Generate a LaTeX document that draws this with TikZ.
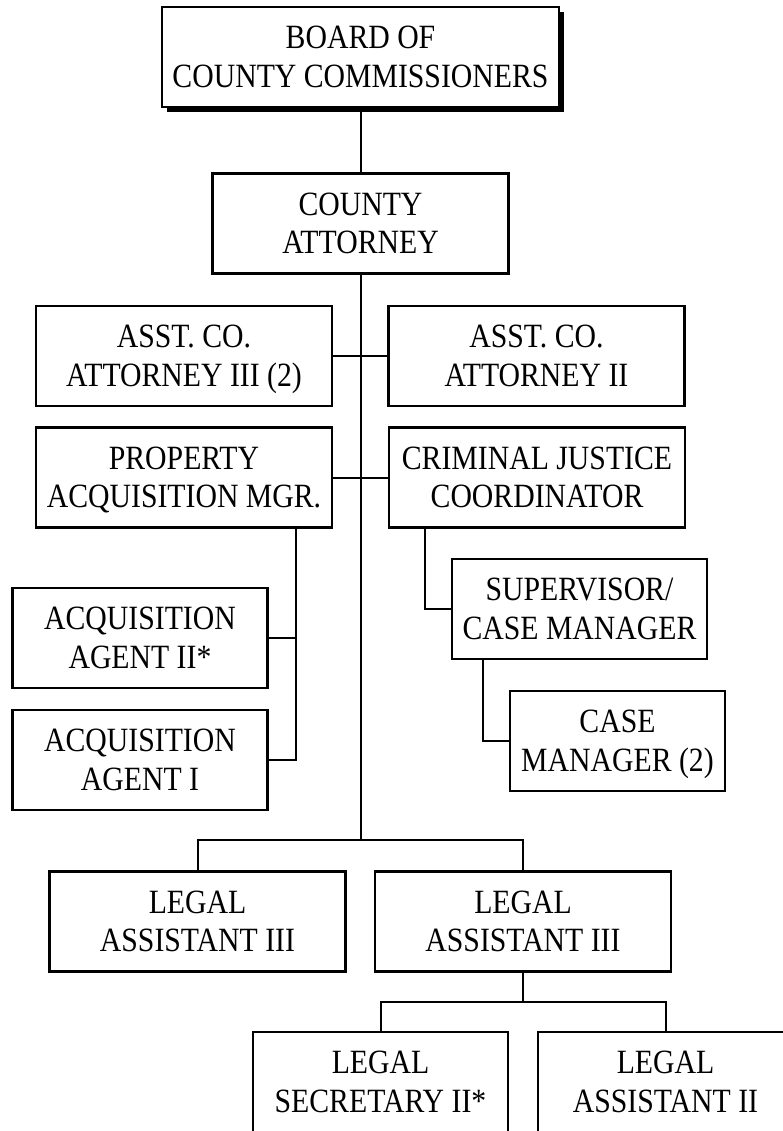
\documentclass[tikz,border=0pt]{standalone}
\usepackage{fontspec}
\setmainfont{Liberation Serif}[FakeStretch=0.875]
\usetikzlibrary{shadows}
\begin{document}
\begin{tikzpicture}[x=1pt,y=-1pt,
  orgbox/.style={draw,line width=2.2pt,fill=white,inner sep=0pt,
    minimum height=100pt,align=center,text height=60.5pt,text depth=0pt,
    font=\fontsize{34}{38.5}\selectfont},
  wide/.style={orgbox,minimum width=296pt},
  mid/.style={orgbox,minimum width=255pt},
  link/.style={line width=2pt}]
\useasboundingbox (0,0) rectangle (783,1131);
\clip (0,0) rectangle (783,1131);

% top of the chart
\node[orgbox,minimum width=397pt,
  drop shadow={shadow xshift=5pt,shadow yshift=-5pt,opacity=1,fill=black}]
  (board) at (360.5,57) {BOARD OF\\COUNTY COMMISSIONERS};
\node[wide] (county) at (360.5,223.5) {COUNTY\\ATTORNEY};

% direct reports
\node[wide] (asst3) at (184,356) {ASST. CO.\\ATTORNEY III (2)};
\node[wide] (asst2) at (536.5,356) {ASST. CO.\\ATTORNEY II};
\node[wide] (prop) at (184,477.5) {PROPERTY\\ACQUISITION MGR.};
\node[wide] (crim) at (537,477.5) {CRIMINAL JUSTICE\\COORDINATOR};

% property acquisition staff
\node[mid] (acq2) at (140,638) {ACQUISITION\\AGENT II*};
\node[mid] (acq1) at (140,760) {ACQUISITION\\AGENT I};

% criminal justice staff
\node[mid] (sup) at (579.5,609) {SUPERVISOR/\\CASE MANAGER};
\node[orgbox,minimum width=215pt] (case) at (617.5,741) {CASE\\MANAGER (2)};

% legal support
\node[wide] (legal3a) at (197.5,921.5) {LEGAL\\ASSISTANT III};
\node[wide] (legal3b) at (523,921.5) {LEGAL\\ASSISTANT III};
\node[mid] (legsec) at (380.5,1082) {LEGAL\\SECRETARY II*};
\node[mid] (legasst2) at (665.5,1082) {LEGAL\\ASSISTANT II};

% junction points
\coordinate (spinebot) at (360.5,840);
\coordinate (propdrop) at (296,528);
\coordinate (crimdrop) at (425,528);
\coordinate (supdrop) at (483,659);
\coordinate (legaljoin) at (523,1002);

% connectors
\draw[link] (board.south) -- (county.north);
\draw[link] (county.south) -- (spinebot);
\draw[link] (asst3.east) -- (asst2.west);
\draw[link] (prop.east) -- (crim.west);
\draw[link] (propdrop) |- (acq1.east);
\draw[link] (acq2.east) -| (propdrop);
\draw[link] (crimdrop) |- (sup.west);
\draw[link] (supdrop) |- (case.west);
\draw[link] (legal3a.north) |- (spinebot) -| (legal3b.north);
\draw[link] (legal3b.south) -- (legaljoin);
\draw[link] (legsec.north) |- (legaljoin) -| (legasst2.north);
\end{tikzpicture}
\end{document}
